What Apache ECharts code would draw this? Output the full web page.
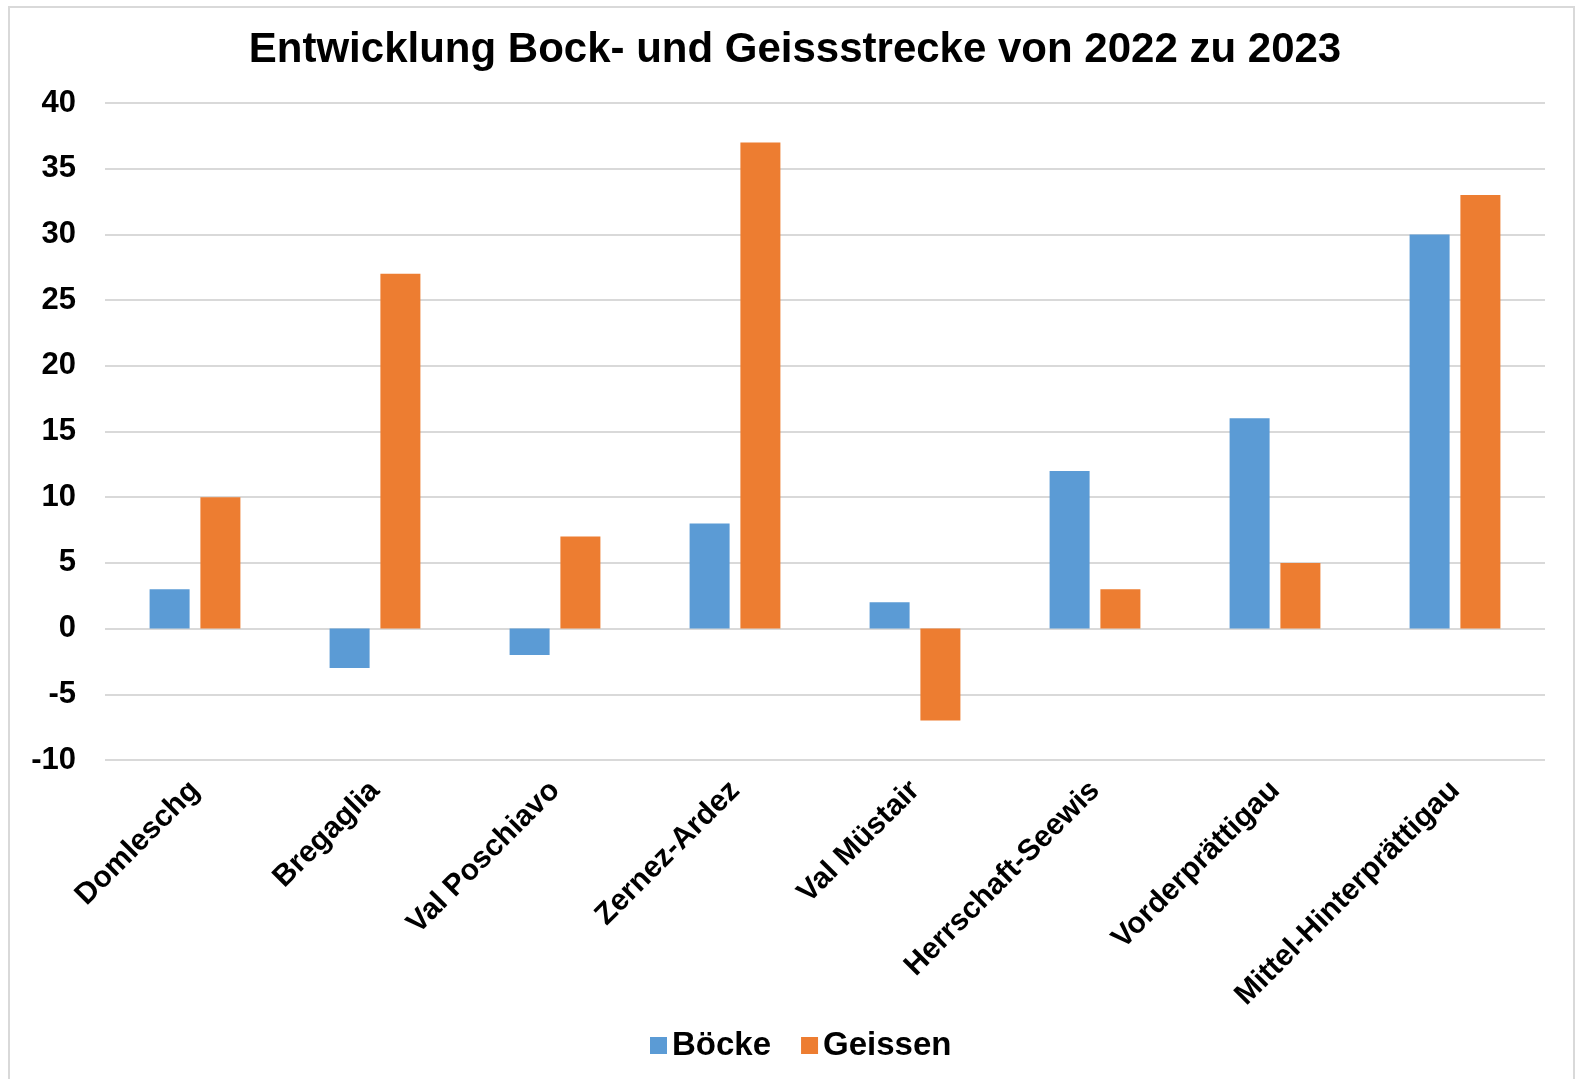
<!DOCTYPE html>
<html lang="de">
<head>
    <meta charset="UTF-8">
    <script src="https://cdn.jsdelivr.net/npm/echarts@6/dist/echarts.min.js"></script>
    <title>Bock- und Geissstrecke</title>
    <style>
        html, body { margin: 0; padding: 0; background: #fff; }
        #frame { position: absolute; left: 8px; top: 6px; width: 1567px; height: 1080px; border: 2px solid #d9d9d9; box-sizing: border-box; }
        #chart { position: absolute; left: 0; top: 0; width: 1579px; height: 1079px; }
    </style>
</head>
<body>
    <div id="frame"></div>
    <div id="chart"></div>
    <script>
        var categories = ['Domleschg', 'Bregaglia', 'Val Poschiavo', 'Zernez-Ardez', 'Val Müstair', 'Herrschaft-Seewis', 'Vorderprättigau', 'Mittel-Hinterprättigau'];
        var boecke = [3, -3, -2, 8, 2, 12, 16, 30];
        var geissen = [10, 27, 7, 37, -7, 3, 5, 33];

        var font = 'Liberation Sans, Arial, sans-serif';
        var chart = echarts.init(document.getElementById('chart'));
        chart.setOption({
            animation: false,
            title: {
                text: 'Entwicklung Bock- und Geissstrecke von 2022 zu 2023',
                left: 790,
                textAlign: 'center',
                top: 24,
                textStyle: { fontFamily: font, fontWeight: 'bold', fontSize: 42, color: '#000' }
            },
            legend: {
                bottom: 12,
                left: 645,
                itemWidth: 17,
                itemHeight: 17,
                itemGap: 30,
                icon: 'rect',
                textStyle: { fontFamily: font, fontWeight: 'bold', fontSize: 33, color: '#000' },
                data: ['Böcke', 'Geissen']
            },
            grid: { left: 105, right: 34, top: 103, bottom: 319 },
            xAxis: {
                type: 'category',
                data: categories,
                axisTick: { show: false },
                axisLine: { show: false },
                axisLabel: {
                    rotate: 45,
                    interval: 0,
                    margin: 26,
                    fontFamily: font,
                    fontWeight: 'bold',
                    fontSize: 30,
                    color: '#000'
                }
            },
            yAxis: {
                type: 'value',
                min: -10,
                max: 40,
                interval: 5,
                axisLine: { show: false },
                axisTick: { show: false },
                splitLine: { lineStyle: { color: '#d9d9d9', width: 2 } },
                axisLabel: {
                    margin: 29,
                    fontFamily: font,
                    fontWeight: 'bold',
                    fontSize: 31,
                    color: '#000'
                }
            },
            series: [
                {
                    name: 'Böcke',
                    type: 'bar',
                    data: boecke,
                    barWidth: 40,
                    barGap: '27%',
                    itemStyle: { color: '#5b9bd5' }
                },
                {
                    name: 'Geissen',
                    type: 'bar',
                    data: geissen,
                    barWidth: 40,
                    barGap: '27%',
                    itemStyle: { color: '#ed7d31' }
                }
            ]
        });
    </script>
</body>
</html>
